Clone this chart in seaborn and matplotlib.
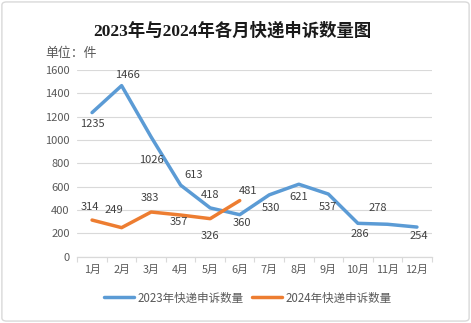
import matplotlib
matplotlib.use("Agg")
import matplotlib.pyplot as plt
from matplotlib.patches import FancyBboxPatch
from matplotlib.ticker import FixedLocator, NullFormatter
import seaborn as sns
import pandas as pd

months = ["1月", "2月", "3月", "4月", "5月", "6月", "7月", "8月", "9月", "10月", "11月", "12月"]
complaints_2023 = [1235, 1466, 1026, 613, 418, 360, 530, 621, 537, 286, 278, 254]
complaints_2024 = [314, 249, 383, 357, 326, 481]
series_names = ["2023年快递申诉数量", "2024年快递申诉数量"]
title_text = "2023年与2024年各月快递申诉数量图"
unit_text = "单位：件"
y_ticks = [0, 200, 400, 600, 800, 1000, 1200, 1400, 1600]

# label offsets (pixels) relative to each point
offsets_2023 = [(0, -11), (6, 11), (0, -23), (13, 10), (0, 13), (2, -8), (2, -13), (0, -13), (0, -13), (2, -11), (-10, 16), (2, -9)]
offsets_2024 = [(-2, 13), (-8, 18), (-1, 14), (-2, -7), (0, -17), (8, 10)]

sns.set_theme(style="white")
plt.rcParams["font.family"] = ["Noto Sans CJK SC", "DejaVu Sans"]

df = pd.concat([
    pd.DataFrame({"month": months, "idx": range(len(months)), "value": complaints_2023, "series": series_names[0]}),
    pd.DataFrame({"month": months[:len(complaints_2024)], "idx": range(len(complaints_2024)),
                  "value": complaints_2024, "series": series_names[1]}),
])

blue = "#5B9BD5"
orange = "#ED7D31"
gray_text = "#595959"
grid_color = "#D9D9D9"
label_size = 8.0

fig = plt.figure(figsize=(4.71, 3.23), dpi=100)
ax = fig.add_axes([77.3 / 471, 1 - 256.7 / 323, (431.7 - 77.3) / 471, (256.7 - 70) / 323])

sns.lineplot(data=df, x="idx", y="value", hue="series", palette=[blue, orange],
             linewidth=2.5, ax=ax, legend=False, sort=False)

ax.set_xlim(-0.5, len(months) - 0.5)
ax.set_ylim(0, 1600)
ax.set_yticks(y_ticks)
ax.set_yticklabels([str(v) for v in y_ticks], color=gray_text, fontsize=label_size)
ax.set_xticks(range(len(months)))
ax.set_xticklabels(months, color=gray_text, fontsize=7.8)
ax.xaxis.set_minor_locator(FixedLocator([i - 0.5 for i in range(len(months) + 1)]))
ax.xaxis.set_minor_formatter(NullFormatter())
ax.tick_params(axis="x", which="major", length=0, pad=6)
ax.tick_params(axis="x", which="minor", length=3.5, color=grid_color, width=0.8, bottom=True)
ax.tick_params(axis="y", length=0, pad=5.5)
ax.set_xlabel("")
ax.set_ylabel("")
ax.grid(axis="y", color=grid_color, linewidth=0.8)
ax.set_axisbelow(True)
for side in ["top", "right", "left"]:
    ax.spines[side].set_visible(False)
ax.spines["bottom"].set_color(grid_color)
ax.spines["bottom"].set_linewidth(0.9)

for i, v in enumerate(complaints_2023):
    dx, dy = offsets_2023[i]
    ax.annotate(str(v), (i, v), xytext=(dx * 0.72, dy * 0.72), textcoords="offset points",
                ha="center", va="center", fontsize=label_size, color="#404040")
for i, v in enumerate(complaints_2024):
    dx, dy = offsets_2024[i]
    ax.annotate(str(v), (i, v), xytext=(dx * 0.72, dy * 0.72), textcoords="offset points",
                ha="center", va="center", fontsize=label_size, color="#404040")

fig.text(232 / 471, 1 - 31 / 323, title_text, ha="center", va="center", fontsize=12.5,
         fontweight="bold", family=["Liberation Serif", "Noto Sans CJK SC"], color="#1a1a1a")
fig.text(45 / 471, 1 - 54 / 323, unit_text, ha="left", va="center", fontsize=9.3, color=gray_text)

handles = [plt.Line2D([], [], color=blue, linewidth=2.5), plt.Line2D([], [], color=orange, linewidth=2.5)]
leg = fig.legend(handles, series_names, loc="center", bbox_to_anchor=(248 / 471, 1 - 298 / 323),
                 ncol=2, frameon=False, fontsize=8.3, handlelength=2.6, columnspacing=0.7,
                 handletextpad=0.3)
for t in leg.get_texts():
    t.set_color(gray_text)

fig.patches.append(FancyBboxPatch((0.004, 0.006), 0.992, 0.988, boxstyle="round,pad=0,rounding_size=0.01",
                                  transform=fig.transFigure, facecolor="none", edgecolor=grid_color,
                                  linewidth=1.0))

fig.savefig("out.png", dpi=100)
